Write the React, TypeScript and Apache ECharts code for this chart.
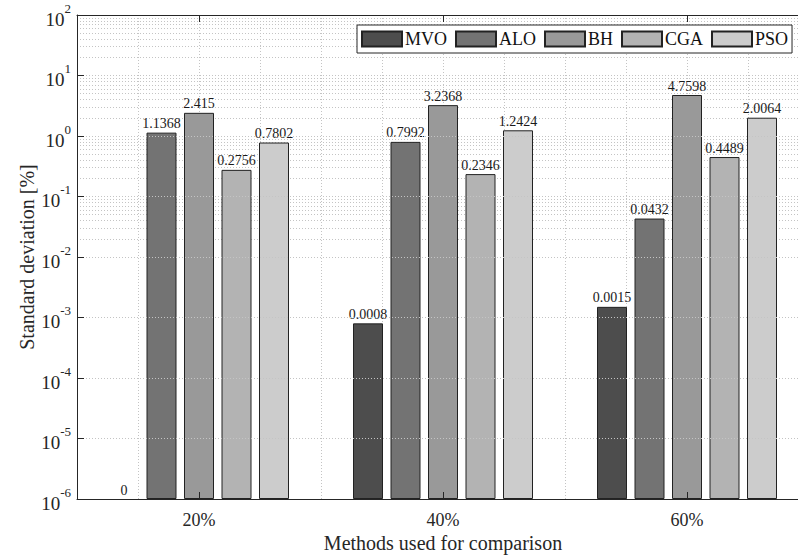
import React, { useEffect, useRef } from "react";
import * as echarts from "echarts";

const categories = ["20%", "40%", "60%"];
const seriesNames = ["MVO", "ALO", "BH", "CGA", "PSO"];
const mvo = [0, 0.0008, 0.0015];
const alo = [1.1368, 0.7992, 0.0432];
const bh = [2.415, 3.2368, 4.7598];
const cga = [0.2756, 0.2346, 0.4489];
const pso = [0.7802, 1.2424, 2.0064];
const seriesColors = ["#4d4d4d", "#737373", "#999999", "#b3b3b3", "#cccccc"];
const yMin = 1e-6;
const yMax = 100;
const minorMultipliers = [2, 3, 4, 5, 6, 7, 8, 9];

const FONT = "Liberation Serif";
const AXIS = "#262626";
const GRID = "#c4c4c4";

export default function App() {
  const ref = useRef<HTMLDivElement>(null);
  useEffect(() => {
    if (!ref.current) return;
    const chart = echarts.init(ref.current, null, { renderer: "svg" });
    const allSeries = [mvo, alo, bh, cga, pso];

    const minorValues: number[] = [];
    for (let e = Math.log10(yMin); e < Math.log10(yMax); e++) {
      for (const m of minorMultipliers) minorValues.push(m * Math.pow(10, e));
    }

    const barSeries = allSeries.map((arr, i) => ({
      name: seriesNames[i],
      type: "bar",
      xAxisIndex: 0,
      yAxisIndex: 0,
      barWidth: 30,
      barGap: "25%",
      z: 3,
      itemStyle: { color: seriesColors[i], borderColor: "#222", borderWidth: 1 },
      label: {
        show: true,
        position: "top",
        distance: 2,
        fontFamily: FONT,
        fontSize: 14,
        color: "#1a1a1a",
        formatter: (p: any) => String(arr[p.dataIndex]),
      },
      data: arr.map((v) =>
        v > 0 ? v : { value: yMin, itemStyle: { borderWidth: 0 } }
      ),
    }));

    chart.setOption({
      animation: false,
      backgroundColor: "#ffffff",
      grid: {
        left: 77,
        right: -11,
        top: 15,
        bottom: 56,
        containLabel: false,
        outerBoundsMode: "none",
      },
      legend: {
        data: seriesNames,
        left: 357,
        top: 25,
        orient: "horizontal",
        icon: "rect",
        itemWidth: 40,
        itemHeight: 15,
        itemGap: 8,
        padding: [5, 4, 5, 4],
        borderColor: AXIS,
        borderWidth: 1,
        backgroundColor: "#ffffff",
        textStyle: { fontFamily: FONT, fontSize: 18, color: "#111", padding: [0, 0, 0, -2] },
        z: 10,
      },
      xAxis: [
        {
          type: "category",
          data: categories,
          position: "bottom",
          axisLine: { show: true, lineStyle: { color: AXIS, width: 1 } },
          axisTick: { show: true, inside: true, alignWithLabel: true, length: 7, lineStyle: { color: AXIS } },
          axisLabel: { fontFamily: FONT, fontSize: 18, color: AXIS, margin: 12 },
          splitLine: { show: false },
          name: "Methods used for comparison",
          nameLocation: "middle",
          nameGap: 34,
          nameMoveOverlap: false,
          nameTextStyle: { fontFamily: FONT, fontSize: 20, color: AXIS },
          z: 5,
        },
        {
          type: "value",
          min: 0.5,
          max: 3.5,
          interval: 0.25,
          position: "bottom",
          axisLine: { show: false },
          axisTick: { show: false },
          axisLabel: { show: false },
          splitLine: { show: true, lineStyle: { color: GRID, type: [1, 2], width: 1 } },
        },
        {
          type: "category",
          data: categories,
          position: "top",
          axisLine: { show: true, lineStyle: { color: AXIS, width: 1 } },
          axisTick: { show: true, inside: true, alignWithLabel: true, length: 7, lineStyle: { color: AXIS } },
          axisLabel: { show: false },
          splitLine: { show: false },
          z: 5,
        },
      ],
      yAxis: [
        {
          type: "log",
          logBase: 10,
          min: yMin,
          max: yMax,
          interval: 1,
          startValue: yMin,
          axisLine: { show: true, lineStyle: { color: AXIS, width: 1 } },
          axisTick: { show: true, inside: true, length: 7, lineStyle: { color: AXIS } },
          splitLine: { show: true, lineStyle: { color: GRID, type: [1, 2], width: 1 } },
          axisLabel: {
            margin: 6,
            color: AXIS,
            formatter: (v: number) => `{b|10}{s|${Math.round(Math.log10(v))}}`,
            rich: {
              b: { fontFamily: FONT, fontSize: 19, color: AXIS, lineHeight: 27, verticalAlign: "bottom" },
              s: { fontFamily: FONT, fontSize: 13, color: AXIS, lineHeight: 27, verticalAlign: "top" },
            },
          },
          name: "Standard deviation [%]",
          nameLocation: "middle",
          nameGap: 40,
          nameMoveOverlap: false,
          nameTextStyle: { fontFamily: FONT, fontSize: 20, color: AXIS },
          z: 5,
        },
      ],
      series: [
        {
          name: "minor-grid",
          type: "line",
          xAxisIndex: 0,
          yAxisIndex: 0,
          data: [],
          silent: true,
          markLine: {
            silent: true,
            z: 1,
            symbol: ["none", "none"],
            label: { show: false },
            emphasis: { disabled: true },
            lineStyle: { color: GRID, type: [1, 2], width: 1 },
            data: minorValues.map((v) => ({ yAxis: v })),
          },
        },
        ...barSeries,
      ],
    });
    return () => chart.dispose();
  }, []);
  return (
    <div
      ref={ref}
      style={{ position: "fixed", left: 0, top: 0, width: 798, height: 555, background: "#fff" }}
    />
  );
}
